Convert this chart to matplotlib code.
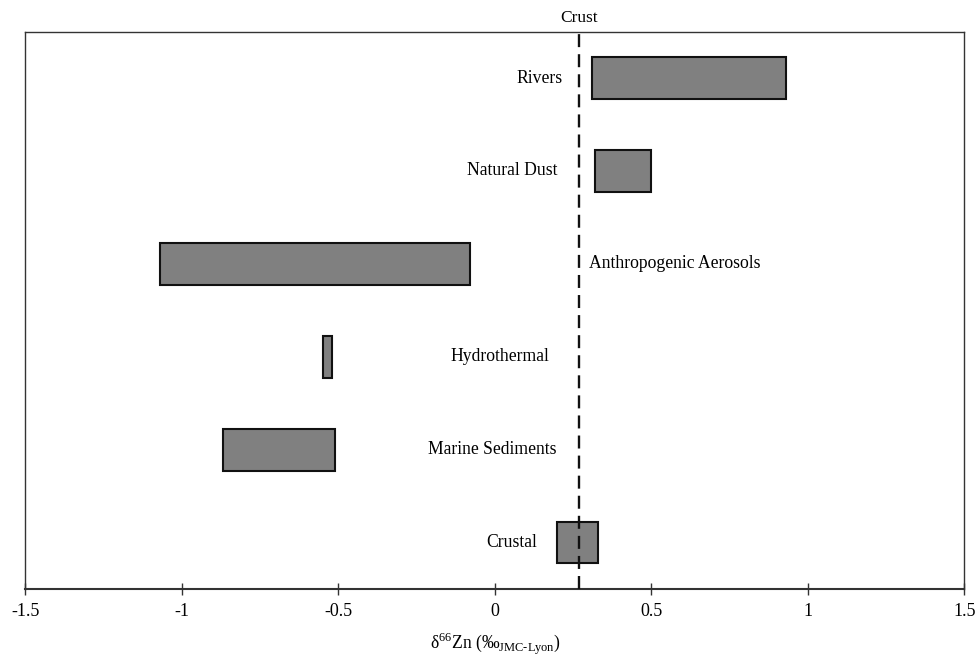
import matplotlib.pyplot as plt
import numpy as np

plt.rcParams['font.family'] = ['Liberation Serif', 'DejaVu Serif']
plt.rcParams['mathtext.fontset'] = 'custom'
plt.rcParams['mathtext.rm'] = 'Liberation Serif'

# d66Zn ranges per reservoir (per mil, JMC-Lyon)
sources = ['Rivers', 'Natural Dust', 'Anthropogenic Aerosols', 'Hydrothermal',
           'Marine Sediments', 'Crustal']
low = [0.31, 0.32, -1.07, -0.55, -0.87, 0.20]
high = [0.93, 0.50, -0.08, -0.52, -0.51, 0.33]
crust = 0.27
xticks = [-1.5, -1, -0.5, 0, 0.5, 1, 1.5]
xticklabels = ['-1.5', '-1', '-0.5', '0', '0.5', '1', '1.5']

# where the names go (layout only)
label_x = [0.215, 0.200, 0.300, 0.175, 0.197, 0.136]
label_ha = ['right', 'right', 'left', 'right', 'right', 'right']

fig = plt.figure(figsize=(9.77, 6.59), dpi=100)
ax = fig.add_axes([0.0261, 0.1062, 0.9609, 0.8458])

ypos = np.arange(len(sources))[::-1]
widths = np.array(high) - np.array(low)
ax.barh(ypos, widths, left=low, height=0.45, color='#808080',
        edgecolor='#111111', linewidth=1.5, zorder=2)

ax.axvline(crust, color='#111111', linewidth=1.7, linestyle=(0, (5.5, 3)), zorder=3)
ax.text(crust, 1.01, 'Crust', transform=ax.get_xaxis_transform(),
        ha='center', va='bottom', fontsize=12.5)

for y, name, lx, ha in zip(ypos, sources, label_x, label_ha):
    ax.text(lx, y, name, ha=ha, va='center', fontsize=12.7)

ax.set_xlim(-1.5, 1.5)
ax.set_ylim(-0.5, 5.5)
ax.set_xticks(xticks)
ax.set_xticklabels(xticklabels, fontsize=13)
ax.set_yticks([])
ax.tick_params(axis='x', direction='inout', length=8, width=1, color='#333333', pad=6)
for s in ax.spines.values():
    s.set_color('#333333')
ax.spines['bottom'].set_linewidth(1.5)
ax.spines['top'].set_linewidth(1.0)
ax.spines['left'].set_linewidth(1.0)
ax.spines['right'].set_linewidth(1.0)

ax.set_xlabel(r'δ$^{66}$Zn (‰$_{\text{JMC-Lyon}}$)', fontsize=12.7, labelpad=8)

fig.savefig('out.png', dpi=100)
